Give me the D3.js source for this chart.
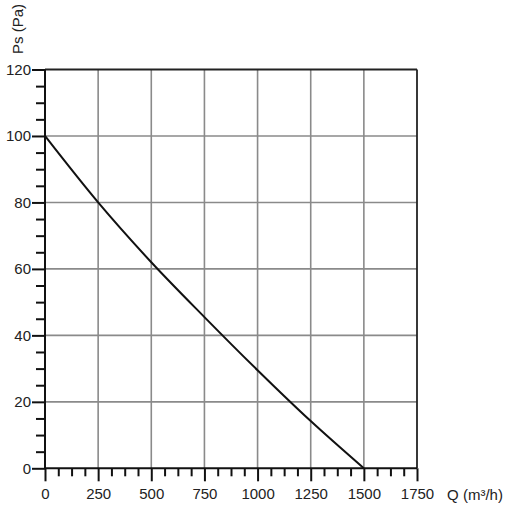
<!DOCTYPE html>
<html><head><meta charset="utf-8">
<script src="https://cdn.jsdelivr.net/npm/d3@7"></script>
<style>body{margin:0;background:#fff}svg{display:block}text{font-family:"Liberation Sans",Arial,sans-serif;fill:#222}</style>
</head><body><svg id="c" width="508" height="516"></svg>
<script>
const flowQ = [0, 250, 500, 750, 1000, 1250, 1500];
const pressurePs = [100, 80, 62, 45.5, 29.5, 14.2, 0];
const xTicks = [0, 250, 500, 750, 1000, 1250, 1500, 1750];
const yTicks = [0, 20, 40, 60, 80, 100, 120];
const xTitle = "Q (m³/h)";
const yTitle = "Ps (Pa)";

const svg = d3.select("#c");
const L = 45, R = 417, T = 69.5, B = 468.3;
const x = d3.scaleLinear().domain([0, 1750]).range([L, R]);
const y = d3.scaleLinear().domain([0, 120]).range([B, T]);

// grid
const g = svg.append("g");
g.selectAll(".vx").data(xTicks.slice(1, -1)).join("line")
  .attr("x1", d => x(d)).attr("x2", d => x(d)).attr("y1", T).attr("y2", B)
  .attr("stroke", "#8a8a8a").attr("stroke-width", 1.6);
g.selectAll(".hy").data(yTicks.slice(1, -1)).join("line")
  .attr("y1", d => y(d)).attr("y2", d => y(d)).attr("x1", L).attr("x2", R)
  .attr("stroke", "#8a8a8a").attr("stroke-width", 1.6);
// frame top/right
svg.append("line").attr("x1", L).attr("x2", R).attr("y1", T).attr("y2", T).attr("stroke", "#222").attr("stroke-width", 1.8);
svg.append("line").attr("x1", R).attr("x2", R).attr("y1", T).attr("y2", B).attr("stroke", "#222").attr("stroke-width", 1.8);

// axes
const xMinor = d3.range(0, 1751, 62.5).filter(v => v % 250 !== 0);
const yMinor = d3.range(0, 121, 5).filter(v => v % 20 !== 0);

const xa = svg.append("g").attr("transform", `translate(0,${B})`)
  .call(d3.axisBottom(x).tickValues(xTicks).tickSize(13).tickPadding(7).tickFormat(d3.format("d")));
const xm = svg.append("g").attr("transform", `translate(0,${B})`)
  .call(d3.axisBottom(x).tickValues(xMinor).tickSize(8).tickFormat(""));
const ya = svg.append("g").attr("transform", `translate(${L},0)`)
  .call(d3.axisLeft(y).tickValues(yTicks).tickSize(13).tickPadding(1).tickFormat(d3.format("d")));
const ym = svg.append("g").attr("transform", `translate(${L},0)`)
  .call(d3.axisLeft(y).tickValues(yMinor).tickSize(9).tickFormat(""));
[xa, xm, ya, ym].forEach(a => {
  a.attr("font-size", null).attr("font-family", null);
  a.selectAll("path.domain").attr("stroke", "#111").attr("stroke-width", 2);
  a.selectAll(".tick line").attr("stroke", "#111").attr("stroke-width", 2);
  a.selectAll("text").style("font-size", "15px").attr("fill", "#222");
});
xm.select("path.domain").remove(); ym.select("path.domain").remove();
xa.select("path.domain").attr("d", `M${L},0H${R}`);
ya.select("path.domain").attr("d", `M0,${T}V${B}`);

// curve
const line = d3.line().x((d, i) => x(flowQ[i])).y(d => y(d)).curve(d3.curveMonotoneX);
svg.append("path").datum(pressurePs).attr("d", line)
  .attr("fill", "none").attr("stroke", "#111").attr("stroke-width", 2);

// titles
svg.append("text").attr("x", 475).attr("y", 500).attr("text-anchor", "middle")
  .style("font-size", "15px").text(xTitle);
svg.append("text").attr("transform", "translate(23,29) rotate(-90)").attr("text-anchor", "middle")
  .style("font-size", "15px").text(yTitle);
</script></body></html>
